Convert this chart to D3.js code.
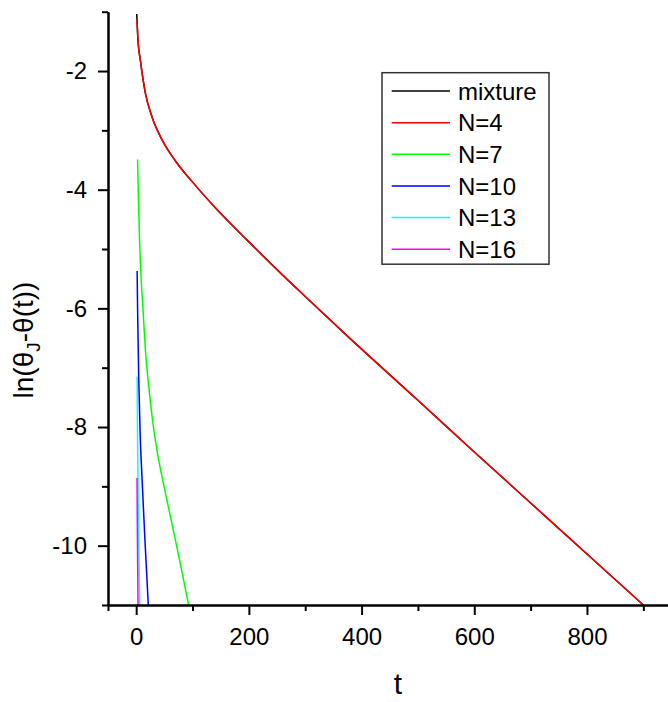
<!DOCTYPE html>
<html>
<head>
<meta charset="utf-8">
<script src="https://cdn.jsdelivr.net/npm/d3@7"></script>
<style>
  body { margin: 0; background: #fff; }
  text { font-family: "Liberation Sans", Arial, sans-serif; fill: #000; }
</style>
</head>
<body>
<div class="chart"></div>
<script>
// ln(theta_J - theta(t)) vs t

// Data
var seriesNames = ["mixture", "N=4", "N=7", "N=10", "N=13", "N=16"];
var seriesColors = ["#000000", "#ff0000", "#00ff00", "#0000ff", "#00ffff", "#ff00ff"];

var mixtureData = [[1, -1.04], [3, -1.45], [7.6, -1.83], [16.5, -2.38], [28, -2.77], [46, -3.16],
    [70, -3.52], [99, -3.86], [140, -4.3], [200, -4.88], [260, -5.44], [300, -5.8], [374, -6.46],
    [500, -7.55], [600, -8.42], [700, -9.28], [800, -10.14], [900, -11.0]];
var n4Data = [[1.3, -1.14], [3, -1.45], [7.6, -1.83], [16.5, -2.38], [28, -2.77], [46, -3.16],
    [70, -3.52], [99, -3.86], [140, -4.3], [200, -4.88], [260, -5.44], [300, -5.8], [374, -6.46],
    [500, -7.55], [600, -8.42], [700, -9.28], [800, -10.14], [900, -11.0]];
var n7Data = [[2.5, -3.49], [4, -4.15], [6, -4.85], [8, -5.35], [12, -6.0], [16, -6.65], [20, -7.1],
    [25, -7.55], [30, -7.95], [37, -8.4], [45, -8.8], [55, -9.25], [65, -9.7], [75, -10.15],
    [85, -10.62], [93, -11.0]];
var n10Data = [[1.7, -5.37], [2.5, -6.0], [3.5, -6.6], [4.6, -7.2], [7, -8.1], [10.6, -8.9],
    [15, -9.8], [21.5, -11.0]];
var n13Data = [[1.7, -7.15], [2.5, -8.2], [3.5, -9.2], [5, -10.2], [6.4, -11.0]];
var n16Data = [[1.5, -8.86], [2, -9.6], [2.6, -10.3], [3.3, -11.0]];
var allSeries = [mixtureData, n4Data, n7Data, n10Data, n13Data, n16Data];

var xMajorTicks = [0, 200, 400, 600, 800];
var xMinorTicks = [100, 300, 500, 700, 900];
var yMajorTicks = [-2, -4, -6, -8, -10];
var yMinorTicks = [-1, -3, -5, -7, -9, -11];

// SVG Dimensions
var svgWidth = 668;
var svgHeight = 702;

var plot = { left: 108, right: 671.5, top: 11.7, bottom: 605 };

var svg = d3.select(".chart")
    .append("svg")
    .attr("width", svgWidth)
    .attr("height", svgHeight);

// Scales
var xScale = d3.scaleLinear()
    .domain([-50, 950])
    .range([plot.left, plot.right]);

var yScale = d3.scaleLinear()
    .domain([-11, -1])
    .range([plot.bottom, plot.top]);

// Curves
var line = d3.line()
    .x(d => xScale(d[0]))
    .y(d => yScale(d[1]))
    .curve(d3.curveMonotoneX);

svg.append("g")
    .selectAll("path")
    .data(allSeries)
    .enter()
    .append("path")
    .attr("d", line)
    .attr("fill", "none")
    .attr("stroke", (d, i) => seriesColors[i])
    .attr("stroke-width", 1.5);

// Axes
function styleAxis(g) {
    g.select(".domain").attr("stroke", "#000").attr("stroke-width", 2);
    g.selectAll(".tick line").attr("stroke", "#000").attr("stroke-width", 2);
    g.selectAll(".tick text").style("font-size", "24px").attr("font-family", null);
}

svg.append("g")
    .attr("transform", `translate(0, ${plot.bottom})`)
    .call(d3.axisBottom(xScale).tickValues(xMinorTicks).tickSize(6).tickFormat(""))
    .call(styleAxis);

svg.append("g")
    .attr("transform", `translate(0, ${plot.bottom})`)
    .call(d3.axisBottom(xScale).tickValues(xMajorTicks).tickSize(10).tickPadding(13).tickSizeOuter(0))
    .call(styleAxis);

svg.append("g")
    .attr("transform", `translate(${plot.left}, 0)`)
    .call(d3.axisLeft(yScale).tickValues(yMinorTicks).tickSize(6).tickFormat("").tickSizeOuter(0))
    .call(styleAxis);

svg.append("g")
    .attr("transform", `translate(${plot.left}, 0)`)
    .call(d3.axisLeft(yScale).tickValues(yMajorTicks).tickSize(10).tickPadding(11).tickSizeOuter(0)
        .tickFormat(d => d3.format("d")(d).replace("\u2212", "-")))
    .call(styleAxis);

// Axis titles
svg.append("text")
    .attr("x", 398)
    .attr("y", 694)
    .attr("text-anchor", "middle")
    .style("font-size", "30px")
    .text("t");

var yTitle = svg.append("text")
    .attr("transform", "translate(33, 340) rotate(-90)")
    .attr("text-anchor", "middle")
    .style("font-size", "28px");
yTitle.append("tspan").text("ln(\u03b8");
yTitle.append("tspan").attr("dy", 7).style("font-size", "19px").text("J");
yTitle.append("tspan").attr("dy", -7).text("-\u03b8(t))");

// Legend
var legend = svg.append("g");
legend.append("rect")
    .attr("x", 382)
    .attr("y", 72.7)
    .attr("width", 167)
    .attr("height", 191.5)
    .attr("fill", "#fff")
    .attr("stroke", "#333")
    .attr("stroke-width", 1.5);

var rows = legend.selectAll(".row")
    .data(seriesNames)
    .enter()
    .append("g")
    .attr("transform", (d, i) => `translate(0, ${91 + i * 31.65})`);

rows.append("line")
    .attr("x1", 391.7)
    .attr("x2", 450)
    .attr("stroke", (d, i) => seriesColors[i])
    .attr("stroke-width", 1.5);

rows.append("text")
    .attr("x", 458)
    .attr("dy", "0.36em")
    .style("font-size", "24px")
    .text(d => d);
</script>
</body>
</html>
